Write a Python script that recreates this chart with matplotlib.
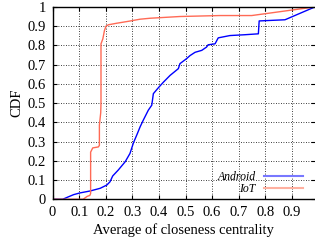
import matplotlib
matplotlib.use('Agg')
import matplotlib.pyplot as plt
from matplotlib.lines import Line2D

plt.rcParams['font.family'] = ['Liberation Serif', 'DejaVu Serif']
plt.rcParams['font.size'] = 10.5

# curves (x = closeness, y = CDF)
android_x = [0.0, 0.038, 0.06, 0.079, 0.103, 0.141, 0.179, 0.204, 0.216, 0.226, 0.247,
             0.273, 0.291, 0.304, 0.319, 0.329, 0.341, 0.36, 0.373, 0.379, 0.398, 0.417,
             0.442, 0.473, 0.479, 0.504, 0.517, 0.536, 0.561, 0.579, 0.585, 0.611, 0.623,
             0.667, 0.72, 0.774, 0.777, 0.874, 0.987]
android_y = [0.0, 0.0, 0.013, 0.024, 0.033, 0.043, 0.057, 0.074, 0.091, 0.121, 0.152,
             0.195, 0.238, 0.293, 0.342, 0.376, 0.411, 0.463, 0.489, 0.549, 0.58, 0.609,
             0.644, 0.679, 0.705, 0.731, 0.747, 0.764, 0.774, 0.791, 0.803, 0.808, 0.839,
             0.851, 0.855, 0.86, 0.927, 0.933, 1.0]

iot_x = [0.0, 0.115, 0.13, 0.14, 0.143, 0.143, 0.151, 0.172, 0.176, 0.176, 0.181, 0.182,
         0.182, 0.189, 0.195, 0.201, 0.21, 0.241, 0.285, 0.329, 0.367, 0.479, 0.63,
         0.749, 0.987]
iot_y = [0.0, 0.0, 0.015, 0.02, 0.03, 0.245, 0.267, 0.272, 0.28, 0.385, 0.45, 0.5,
         0.808, 0.834, 0.877, 0.9, 0.907, 0.915, 0.925, 0.936, 0.941, 0.95, 0.955,
         0.955, 1.0]

xticks = [0, 0.1, 0.2, 0.3, 0.4, 0.5, 0.6, 0.7, 0.8, 0.9]
yticks = [0, 0.1, 0.2, 0.3, 0.4, 0.5, 0.6, 0.7, 0.8, 0.9, 1]

fig = plt.figure(figsize=(3.15, 2.46), dpi=100)
ax = fig.add_axes([0.167, 0.19, 0.833, 0.782])

ax.plot(android_x, android_y, color='#0000ff', lw=1.0)
ax.plot(iot_x, iot_y, color='#ff6a55', lw=1.0)

ax.set_xlim(0, 0.987)
ax.set_ylim(0, 1)
ax.set_xticks(xticks)
ax.set_xticklabels([f'{t:g}' for t in xticks])
ax.set_yticks(yticks)
ax.set_yticklabels([f'{t:g}' for t in yticks])
ax.tick_params(direction='in', top=True, right=True, length=3, width=0.8,
               labelsize=10.5, pad=5)
ax.grid(True, color='black', linestyle=(0, (1, 2)), linewidth=0.6)
ax.spines['right'].set_visible(False)
for s in ['left', 'bottom', 'top']:
    ax.spines[s].set_linewidth(1.0)

ax.set_xlabel('Average of closeness centrality', fontsize=10.5, labelpad=3)
ax.set_ylabel('CDF', fontsize=10.5, labelpad=3)

handles = [Line2D([], [], color='#7878ff', lw=1.5), Line2D([], [], color='#ffb0a0', lw=1.5)]
leg = ax.legend(handles, ['Android', 'IoT'], loc='lower right', markerfirst=False,
                frameon=False, prop={'style': 'italic', 'size': 8.5},
                handlelength=3.3, handletextpad=0.7, labelspacing=0.0,
                borderpad=0, bbox_to_anchor=(0.975, -0.01))

fig.savefig('out.png', dpi=100)
